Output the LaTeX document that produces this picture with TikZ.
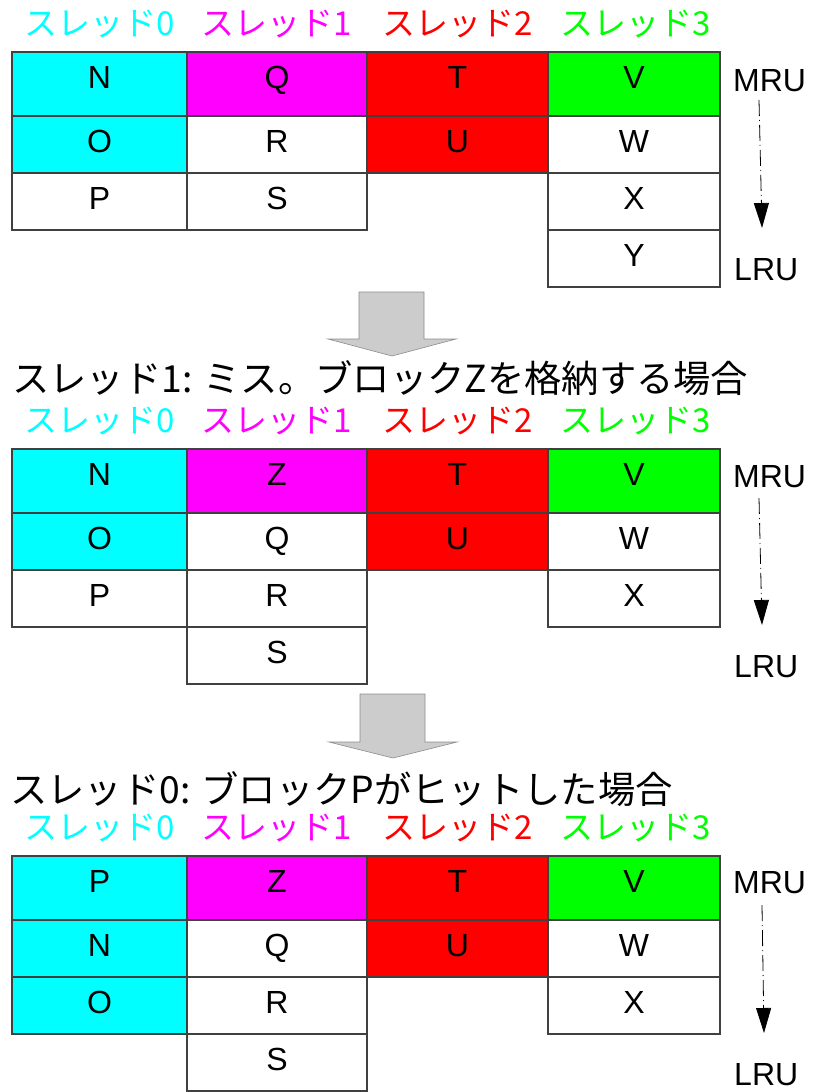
\documentclass[tikz,border=0pt]{standalone}
\usepackage{fontspec}
\setmainfont{Liberation Sans}
\newfontfamily\jp{Noto Sans CJK JP}
\usetikzlibrary{arrows.meta}
\definecolor{cC}{RGB}{0,255,255}
\definecolor{cM}{RGB}{255,0,255}
\definecolor{cR}{RGB}{255,0,0}
\definecolor{cG}{RGB}{0,255,0}
\definecolor{agray}{RGB}{204,204,204}
\tikzset{
  cell/.style={draw=black!75, line width=1.1pt, anchor=north, inner sep=0pt, outer sep=0pt,
    text height=36pt, font=\fontsize{32}{36}\selectfont},
  cA/.style={minimum width=175pt}, cB/.style={minimum width=180pt},
  cCc/.style={minimum width=181pt}, cD/.style={minimum width=172pt},
  rowa/.style={text depth=28pt}, rowb/.style={text depth=21pt},
  hdr/.style={anchor=base, inner sep=0pt, font=\jp\fontsize{33}{38}\selectfont},
  ttl/.style={anchor=base west, inner sep=0pt, font=\jp\fontsize{37.3}{44}\selectfont},
  side/.style={anchor=base west, inner sep=0pt, font=\fontsize{32}{36}\selectfont},
  lru/.style={dash pattern=on 16pt off 4pt on 1pt off 4pt, line width=0.8pt,
    -{Triangle[length=25pt,width=15pt]}},
  bigarrow/.style={fill=agray, draw=black!45, line width=0.6pt}
}
\begin{document}
\begin{tikzpicture}[x=1pt,y=-1pt]
\useasboundingbox (0,0) rectangle (813,1092);

% ---------- Table 1 ----------
\begin{scope}[shift={(0,52)}]
\node[hdr,text=cC] (h1a) at (100,-17) {スレッド0};
\node[hdr,text=cM] (h1b) at (277,-17) {スレッド1};
\node[hdr,text=cR] (h1c) at (458,-17) {スレッド2};
\node[hdr,text=cG] (h1d) at (636,-17) {スレッド3};
\node[cell,cA,rowa,fill=cC] (t1a1) at (99.5,0) {N};
\node[cell,cA,rowb,fill=cC] (t1a2) at (99.5,64) {O};
\node[cell,cA,rowb] (t1a3) at (99.5,121) {P};
\node[cell,cB,rowa,fill=cM] (t1b1) at (277,0) {Q};
\node[cell,cB,rowb] (t1b2) at (277,64) {R};
\node[cell,cB,rowb] (t1b3) at (277,121) {S};
\node[cell,cCc,rowa,fill=cR] (t1c1) at (457.5,0) {T};
\node[cell,cCc,rowb,fill=cR] (t1c2) at (457.5,64) {U};
\node[cell,cD,rowa,fill=cG] (t1d1) at (634,0) {V};
\node[cell,cD,rowb] (t1d2) at (634,64) {W};
\node[cell,cD,rowb] (t1d3) at (634,121) {X};
\node[cell,cD,rowb] (t1d4) at (634,178) {Y};
\node[side] (mru1) at (733,39) {MRU};
\node[side] (lru1) at (734,228) {LRU};
\coordinate (s1) at (759,48);
\coordinate (e1) at (762,176);
\draw[lru] (s1) -- (e1);
\end{scope}

\draw[bigarrow] (359,292) -- (424,292) -- (424,339) -- (456,339) -- (392,356) -- (328,339) -- (359,339) -- cycle;

% ---------- Table 2 ----------
\node[ttl] (title2) at (12,392) {スレッド1: ミス。ブロックZを格納する場合};
\begin{scope}[shift={(0,449)}]
\node[hdr,text=cC] (h2a) at (100,-17) {スレッド0};
\node[hdr,text=cM] (h2b) at (277,-17) {スレッド1};
\node[hdr,text=cR] (h2c) at (458,-17) {スレッド2};
\node[hdr,text=cG] (h2d) at (636,-17) {スレッド3};
\node[cell,cA,rowa,fill=cC] (t2a1) at (99.5,0) {N};
\node[cell,cA,rowb,fill=cC] (t2a2) at (99.5,64) {O};
\node[cell,cA,rowb] (t2a3) at (99.5,121) {P};
\node[cell,cB,rowa,fill=cM] (t2b1) at (277,0) {Z};
\node[cell,cB,rowb] (t2b2) at (277,64) {Q};
\node[cell,cB,rowb] (t2b3) at (277,121) {R};
\node[cell,cB,rowb] (t2b4) at (277,178) {S};
\node[cell,cCc,rowa,fill=cR] (t2c1) at (457.5,0) {T};
\node[cell,cCc,rowb,fill=cR] (t2c2) at (457.5,64) {U};
\node[cell,cD,rowa,fill=cG] (t2d1) at (634,0) {V};
\node[cell,cD,rowb] (t2d2) at (634,64) {W};
\node[cell,cD,rowb] (t2d3) at (634,121) {X};
\node[side] (mru2) at (733,38) {MRU};
\node[side] (lru2) at (734,228) {LRU};
\coordinate (s2) at (759,49);
\coordinate (e2) at (762,176);
\draw[lru] (s2) -- (e2);
\end{scope}

\draw[bigarrow] (360,694) -- (425,694) -- (425,742) -- (457,742) -- (393,758) -- (329,742) -- (360,742) -- cycle;

% ---------- Table 3 ----------
\node[ttl] (title3) at (10,803) {スレッド0: ブロックPがヒットした場合};
\begin{scope}[shift={(0,856)}]
\node[hdr,text=cC] (h3a) at (100,-17) {スレッド0};
\node[hdr,text=cM] (h3b) at (277,-17) {スレッド1};
\node[hdr,text=cR] (h3c) at (458,-17) {スレッド2};
\node[hdr,text=cG] (h3d) at (636,-17) {スレッド3};
\node[cell,cA,rowa,fill=cC] (t3a1) at (99.5,0) {P};
\node[cell,cA,rowb,fill=cC] (t3a2) at (99.5,64) {N};
\node[cell,cA,rowb,fill=cC] (t3a3) at (99.5,121) {O};
\node[cell,cB,rowa,fill=cM] (t3b1) at (277,0) {Z};
\node[cell,cB,rowb] (t3b2) at (277,64) {Q};
\node[cell,cB,rowb] (t3b3) at (277,121) {R};
\node[cell,cB,rowb] (t3b4) at (277,178) {S};
\node[cell,cCc,rowa,fill=cR] (t3c1) at (457.5,0) {T};
\node[cell,cCc,rowb,fill=cR] (t3c2) at (457.5,64) {U};
\node[cell,cD,rowa,fill=cG] (t3d1) at (634,0) {V};
\node[cell,cD,rowb] (t3d2) at (634,64) {W};
\node[cell,cD,rowb] (t3d3) at (634,121) {X};
\node[side] (mru3) at (733,37) {MRU};
\node[side] (lru3) at (734,229) {LRU};
\coordinate (s3) at (762,49);
\coordinate (e3) at (764,177);
\draw[lru] (s3) -- (e3);
\end{scope}
\end{tikzpicture}
\end{document}
